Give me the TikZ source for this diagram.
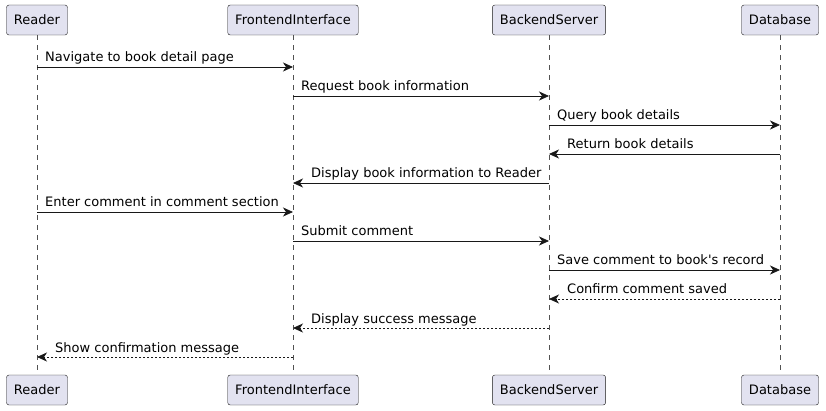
\documentclass[tikz,border=0pt]{standalone}
\usepackage{fontspec}
\setmainfont{DejaVu Sans}
\usetikzlibrary{arrows.meta}

\definecolor{partfill}{HTML}{E2E2F0}
\definecolor{partline}{HTML}{181818}

\tikzset{
    participant/.style={draw=partline, fill=partfill, rounded corners=2.5pt,
        minimum height=30pt, inner xsep=7.5pt, font=\fontsize{13}{15}\selectfont},
    lifeline/.style={draw=partline!75, line width=0.5pt, dash pattern=on 5pt off 5pt},
    msg/.style={draw=partline, line width=0.8pt, -{Stealth[length=10pt,width=9pt,inset=3pt]}},
    reply/.style={msg, dash pattern=on 2pt off 2pt},
    msgtext/.style={font=\fontsize{13}{15}\selectfont, inner sep=0pt}
}

\begin{document}
\begin{tikzpicture}[x=1pt, y=-1pt]
        \useasboundingbox (0,0) rectangle (826,411);
        % participants, top and bottom
        \foreach \n/\x/\t in {R/37/Reader, F/293/FrontendInterface, B/549/BackendServer, D/780/Database} {
            \node[participant] (\n top) at (\x, 20) {\t};
            \node[participant] (\n bot) at (\x, 390) {\t};
            \draw[lifeline] (\n top.south) -- (\n bot.north);
        }
        % message rows
        \foreach \k in {1,...,11} {
            \coordinate (y\k) at (0, 38+29*\k);
        }
        \draw[msg] (Rtop |- y1) -- (Ftop |- y1);
        \node[msgtext, anchor=base west] at ([xshift=8pt, yshift=5pt]Rtop |- y1) {Navigate to book detail page};
        \draw[msg] (Ftop |- y2) -- (Btop |- y2);
        \node[msgtext, anchor=base west] at ([xshift=8pt, yshift=5pt]Ftop |- y2) {Request book information};
        \draw[msg] (Btop |- y3) -- (Dtop |- y3);
        \node[msgtext, anchor=base west] at ([xshift=8pt, yshift=5pt]Btop |- y3) {Query book details};
        \draw[msg] (Dtop |- y4) -- (Btop |- y4);
        \node[msgtext, anchor=base west] at ([xshift=18pt, yshift=5pt]Btop |- y4) {Return book details};
        \draw[msg] (Btop |- y5) -- (Ftop |- y5);
        \node[msgtext, anchor=base west] at ([xshift=18pt, yshift=5pt]Ftop |- y5) {Display book information to Reader};
        \draw[msg] (Rtop |- y6) -- (Ftop |- y6);
        \node[msgtext, anchor=base west] at ([xshift=8pt, yshift=5pt]Rtop |- y6) {Enter comment in comment section};
        \draw[msg] (Ftop |- y7) -- (Btop |- y7);
        \node[msgtext, anchor=base west] at ([xshift=8pt, yshift=5pt]Ftop |- y7) {Submit comment};
        \draw[msg] (Btop |- y8) -- (Dtop |- y8);
        \node[msgtext, anchor=base west] at ([xshift=8pt, yshift=5pt]Btop |- y8) {Save comment to book\textquotesingle s record};
        \draw[reply] (Dtop |- y9) -- (Btop |- y9);
        \node[msgtext, anchor=base west] at ([xshift=18pt, yshift=5pt]Btop |- y9) {Confirm comment saved};
        \draw[reply] (Btop |- y10) -- (Ftop |- y10);
        \node[msgtext, anchor=base west] at ([xshift=18pt, yshift=5pt]Ftop |- y10) {Display success message};
        \draw[reply] (Ftop |- y11) -- (Rtop |- y11);
        \node[msgtext, anchor=base west] at ([xshift=18pt, yshift=5pt]Rtop |- y11) {Show confirmation message};
    \end{tikzpicture}
\end{document}
